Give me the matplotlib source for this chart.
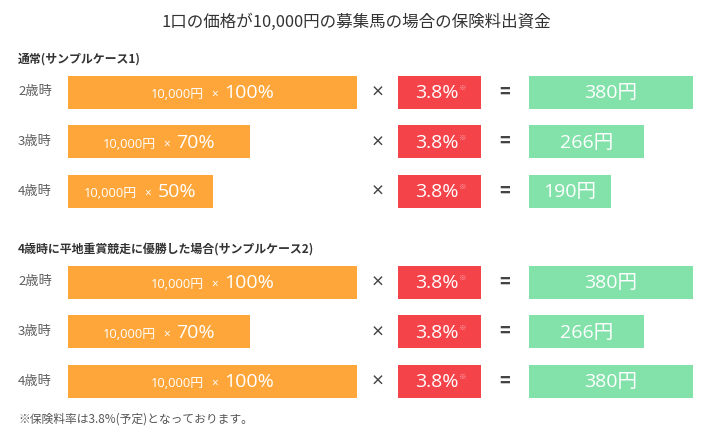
import matplotlib
matplotlib.use("Agg")
import matplotlib.pyplot as plt
from matplotlib.offsetbox import TextArea, HPacker, AnnotationBbox

plt.rcParams['font.family'] = ['Noto Sans CJK JP', 'DejaVu Sans']

# data
title = "1口の価格が10,000円の募集馬の場合の保険料出資金"
sections = ["通常(サンプルケース1)", "4歳時に平地重賞競走に優勝した場合(サンプルケース2)"]
ages = ["2歳時", "3歳時", "4歳時"]
unit_price = 10000
rate = 3.8
case1_pct = [100, 70, 50]
case2_pct = [100, 70, 100]
# drawn length of the orange bars (they are not proportional in the original)
case1_len = [100, 63, 50]
case2_len = [100, 63, 100]
footnote = "※保険料率は3.8%(予定)となっております。"

ORANGE = "#FFA63A"
RED = "#F5434A"
GREEN = "#82E2AA"
DARK = "#444444"
GREY = "#5E5E5E"
NUM_FONT = ['Open Sans', 'Noto Sans CJK JP']

fig = plt.figure(figsize=(7.1, 4.34), dpi=100)
ax = fig.add_axes([0, 0, 1, 1])
ax.set_xlim(0, 710)
ax.set_ylim(434, 0)
ax.axis('off')

ax.text(356, 22, title, ha='center', va='center', fontsize=11.9, color='#333333')

orange_x0, orange_full = 68, 289
red_x0, red_w = 398, 83
green_x0, green_full = 529, 164
bar_h = 33
row_gap = 49.5


def packed(parts, xy, align="baseline", sep=5):
    boxes = [TextArea(s, textprops=p) for s, p in parts]
    pack = HPacker(children=boxes, align=align, pad=0, sep=sep)
    ab = AnnotationBbox(pack, xy, frameon=False, box_alignment=(0.5, 0.5), pad=0)
    ax.add_artist(ab)


def draw_section(top, header, pct, lens):
    ax.text(18, top, header, ha='left', va='center', fontsize=8.6,
            fontweight='bold', color='#333333')
    results = [unit_price * p / 100 * rate / 100 for p in pct]
    ys = [top + 33 + i * row_gap for i in range(len(ages))]
    ax.barh(ys, [l / 100 * orange_full for l in lens], left=orange_x0,
            height=bar_h, color=ORANGE)
    ax.barh(ys, [red_w] * len(ys), left=red_x0, height=bar_h, color=RED)
    ax.barh(ys, [r / 380 * green_full for r in results],
            left=green_x0, height=bar_h, color=GREEN)
    for i, y in enumerate(ys):
        ax.text(18, y, ages[i], ha='left', va='center', fontsize=9.5, color=GREY)
        cx = orange_x0 + lens[i] / 100 * orange_full / 2
        packed([(f"{unit_price:,}円", dict(color='white', fontsize=9.3, family=NUM_FONT)),
                ("×", dict(color='white', fontsize=8.5, family=NUM_FONT)),
                (f"{pct[i]}%", dict(color='white', fontsize=14, family=NUM_FONT))],
               (cx, y + 1))
        ax.text(378, y + 1, "×", ha='center', va='center', fontsize=10,
                fontweight='bold', color=DARK)
        packed([(f"{rate}%", dict(color='white', fontsize=14, family=NUM_FONT)),
                ("※", dict(color='#FFB0B4', fontsize=5.5))],
               (red_x0 + red_w / 2 + 1, y + 1), align="top", sep=0)
        ax.text(505, y, "=", ha='center', va='center', fontsize=13,
                fontweight='bold', color=DARK)
        gw = results[i] / 380 * green_full
        ax.text(green_x0 + gw / 2, y + 1, f"{results[i]:.0f}円", ha='center',
                va='center', fontsize=14, color='white', family=NUM_FONT)


draw_section(59, sections[0], case1_pct, case1_len)
draw_section(249, sections[1], case2_pct, case2_len)

ax.text(18, 419, footnote, ha='left', va='center', fontsize=8.5, color='#555555')

fig.savefig("out.png", dpi=100)
